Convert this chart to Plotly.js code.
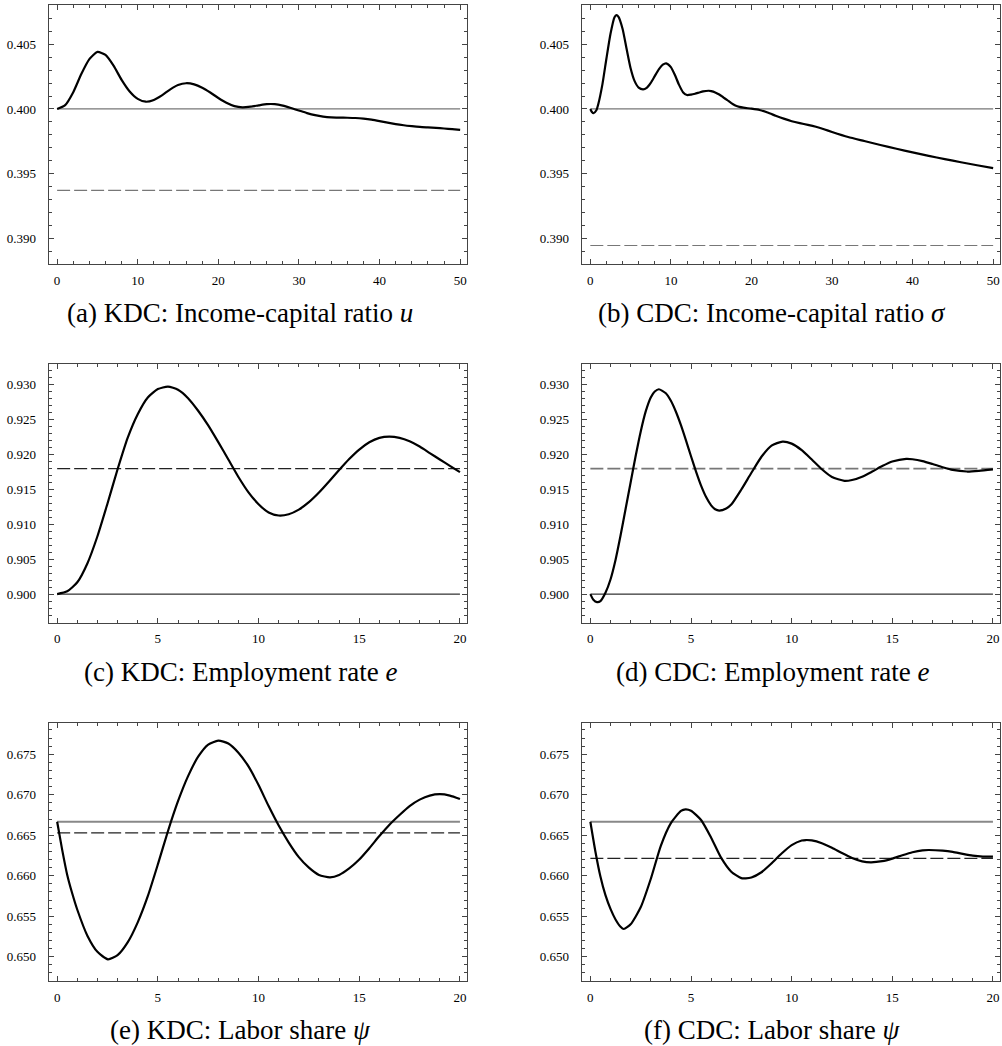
<!DOCTYPE html>
<html>
<head>
<meta charset="utf-8">
<script src="https://cdn.plot.ly/plotly-3.0.1.min.js"></script>
<style>html,body{margin:0;padding:0;background:#fff}#chart{width:1002px;height:1046px}</style>
</head>
<body>
<div id="chart"></div>
<script>
// ---------- (a) KDC: income-capital ratio u ----------
const tA = [0,1,2,3,4,5,6,7,8,9,10,11,12,13,14,15,16,17,18,19,20,21,22,23,24,25,26,27,28,29,30,31,32,33,34,35,36,37,38,39,40,41,42,43,44,45,46,47,48,49,50];
const uA = [0.40000,0.40030,0.40130,0.40270,0.40385,0.40441,0.40418,0.40335,0.40225,0.40135,0.40078,0.40056,0.40070,0.40105,0.40150,0.40185,0.40199,0.40190,0.40164,0.40127,0.40085,0.40048,0.40022,0.40013,0.40018,0.40028,0.40037,0.40037,0.40026,0.40008,0.39988,0.39968,0.39952,0.39941,0.39935,0.39933,0.39932,0.39930,0.39925,0.39917,0.39906,0.39894,0.39883,0.39874,0.39867,0.39861,0.39857,0.39853,0.39849,0.39844,0.39838];
const uStartA = 0.4000, uStarA = 0.3937;

// ---------- (b) CDC: income-capital ratio sigma ----------
const tB = [0,0.2,0.4,0.75,1,1.5,2,2.5,3,3.24,3.5,4,4.5,5,5.5,6,6.55,7,7.5,8,8.5,9,9.42,10,10.5,11,11.5,12,12.5,13,13.5,14,14.7,15,15.5,16,16.5,17,17.5,18,18.5,19,20,21,22,23,24,25,26,27,28,29,30,32,34,36,38,40,42,44,46,48,50];
const sB = [0.40000,0.39976,0.39967,0.39990,0.40040,0.40190,0.40390,0.40580,0.40710,0.40726,0.40712,0.40620,0.40465,0.40315,0.40215,0.40165,0.40152,0.40164,0.40202,0.40254,0.40306,0.40343,0.40353,0.40324,0.40262,0.40188,0.40130,0.40108,0.40111,0.40118,0.40127,0.40136,0.40141,0.40138,0.40128,0.40112,0.40090,0.40068,0.40045,0.40027,0.40016,0.40010,0.40002,0.39992,0.39972,0.39948,0.39925,0.39905,0.39890,0.39877,0.39862,0.39843,0.39822,0.39783,0.39752,0.39721,0.39692,0.39664,0.39637,0.39612,0.39588,0.39565,0.39542];
const sStartB = 0.4000, sStarB = 0.38944;

// ---------- (c) KDC: employment rate e ----------
const tC = [0,0.5,1,1.5,2,2.5,3,3.5,4,4.5,5,5.5,6,6.5,7,7.5,8,8.5,9,9.5,10,10.5,11,11.5,12,12.5,13,13.5,14,14.5,15,15.5,16,16.5,17,17.5,18,18.5,19,19.5,20];
const eC = [0.9000,0.9004,0.9017,0.9044,0.9083,0.9130,0.9179,0.9224,0.9258,0.9282,0.9294,0.92976,0.9293,0.9281,0.9263,0.9242,0.9218,0.9193,0.9168,0.9146,0.9129,0.9117,0.91127,0.91146,0.91212,0.91318,0.91456,0.91614,0.91779,0.91937,0.92073,0.92178,0.92241,0.92259,0.92240,0.92191,0.92116,0.92023,0.9193,0.9184,0.9175];
const eStartC = 0.9000, eStarC = 0.9180;

// ---------- (d) CDC: employment rate e ----------
const tD = [0,0.15,0.33,0.5,0.75,1,1.25,1.5,1.75,2,2.25,2.5,2.75,3,3.2,3.4,3.75,4,4.25,4.5,4.75,5,5.25,5.5,5.75,6,6.2,6.4,6.75,7,7.5,8,8.5,9,9.55,10,10.5,11,11.5,12,12.62,13,13.5,14,14.5,15,15.69,16,16.5,17,17.5,18,18.7,19.3,20];
const eD = [0.9000,0.8992,0.89886,0.8990,0.9002,0.9021,0.9049,0.9084,0.9122,0.9160,0.9198,0.9233,0.9262,0.9282,0.92905,0.92938,0.92880,0.92772,0.92615,0.92422,0.92204,0.91977,0.91757,0.91556,0.91392,0.91273,0.91217,0.91198,0.91228,0.91284,0.9150,0.9174,0.9197,0.9213,0.92187,0.92158,0.92064,0.91930,0.91790,0.91679,0.91624,0.91636,0.91684,0.91757,0.91836,0.91901,0.91939,0.91934,0.91908,0.91866,0.91820,0.91781,0.91758,0.91768,0.9179];
const eStartD = 0.9000, eStarD = 0.9180;

// ---------- (e) KDC: labor share psi ----------
const tE = [0,0.25,0.5,0.75,1,1.5,2,2.52,3,3.5,4,4.5,5,5.5,6,6.5,7,7.5,8,8.5,9,9.5,10,10.5,11,11.5,12,12.5,13,13.55,14,14.5,15,15.5,16,16.5,17,17.5,18,18.5,19,19.5,20];
const pE = [0.66667,0.6632,0.6601,0.6578,0.6558,0.6526,0.6506,0.64968,0.65019,0.65176,0.65424,0.65747,0.6614,0.6655,0.6692,0.6723,0.6747,0.6762,0.67668,0.67634,0.67520,0.67350,0.6712,0.6686,0.6662,0.6641,0.6623,0.6610,0.6601,0.65981,0.6601,0.6609,0.6620,0.6634,0.6649,0.6663,0.6675,0.6686,0.6694,0.6699,0.67007,0.6699,0.66948];
const pStartE = 0.66667, pStarE = 0.6653;

// ---------- (f) CDC: labor share psi ----------
const tF = [0,0.25,0.5,0.75,1,1.25,1.5,1.66,2,2.5,3,3.5,4,4.5,4.73,5,5.5,6,6.5,7,7.5,7.72,8,8.5,9,9.5,10,10.5,10.71,11,11.5,12,12.5,13,13.5,13.94,14.5,15,15.5,16,16.5,16.8,17.5,18,18.5,19,19.5,20];
const pF = [0.66667,0.6630,0.6599,0.6576,0.6559,0.6546,0.6537,0.65342,0.6540,0.6561,0.6596,0.6637,0.6665,0.6680,0.6682,0.66803,0.66688,0.6647,0.6622,0.6605,0.6597,0.65968,0.65978,0.66043,0.66152,0.66274,0.66378,0.66435,0.66441,0.66436,0.66402,0.66346,0.66280,0.66220,0.66178,0.66166,0.66180,0.66212,0.66253,0.66290,0.66314,0.66318,0.66310,0.66295,0.66270,0.66248,0.66237,0.66235];
const pStartF = 0.66667, pStarF = 0.66215;

const captions = [
  "(a) KDC: Income-capital ratio <i>u</i>",
  "(b) CDC: Income-capital ratio <i>σ</i>",
  "(c) KDC: Employment rate <i>e</i>",
  "(d) CDC: Employment rate <i>e</i>",
  "(e) KDC: Labor share <i>ψ</i>",
  "(f) CDC: Labor share <i>ψ</i>"
];

const panels = [
  {t:tA, y:uA, start:uStartA, star:uStarA, xmax:50, xr:[-1.07,50.85], yr:[0.38801,0.40804], ytv:[0.390,0.395,0.400,0.405], xd:10, xmin:2, ymin:0.001, solidC:'#777', solidW:1.2, dashC:'#777', dashW:1.2},
  {t:tB, y:sB, start:sStartB, star:sStarB, xmax:50, xr:[-1.07,50.85], yr:[0.38801,0.40804], ytv:[0.390,0.395,0.400,0.405], xd:10, xmin:2, ymin:0.001, solidC:'#777', solidW:1.2, dashC:'#777', dashW:1.2},
  {t:tC, y:eC, start:eStartC, star:eStarC, xmax:20, xr:[-0.43,20.35], yr:[0.8959,0.9330], ytv:[0.900,0.905,0.910,0.915,0.920,0.925,0.930], xd:5, xmin:1, ymin:0.001, solidC:'#000', solidW:1, dashC:'#222', dashW:1.2},
  {t:tD, y:eD, start:eStartD, star:eStarD, xmax:20, xr:[-0.43,20.35], yr:[0.8959,0.9330], ytv:[0.900,0.905,0.910,0.915,0.920,0.925,0.930], xd:5, xmin:1, ymin:0.001, solidC:'#000', solidW:1, dashC:'#777', dashW:1.8},
  {t:tE, y:pE, start:pStartE, star:pStarE, xmax:20, xr:[-0.43,20.35], yr:[0.6470,0.6789], ytv:[0.650,0.655,0.660,0.665,0.670,0.675], xd:5, xmin:1, ymin:0.001, solidC:'#888', solidW:1.8, dashC:'#222', dashW:1.2},
  {t:tF, y:pF, start:pStartF, star:pStarF, xmax:20, xr:[-0.43,20.35], yr:[0.6470,0.6789], ytv:[0.650,0.655,0.660,0.665,0.670,0.675], xd:5, xmin:1, ymin:0.001, solidC:'#888', solidW:1.8, dashC:'#222', dashW:1.2}
];

const W = 1002, H = 1046;
const colPx = [[48.5,467],[581.7,1000]];
const rowPx = [[5,264],[364,622.7],[722.7,981]];
const capCenterPx = [240, 772];
const SERIF = 'Liberation Serif, serif';

const traces = [];
const layout = {
  width: W, height: H,
  margin: {l:0, r:0, t:0, b:0},
  paper_bgcolor: '#fff', plot_bgcolor: '#fff',
  showlegend: false,
  font: {family: SERIF, size: 13, color: '#000'},
  annotations: []
};

panels.forEach((p, i) => {
  const r = Math.floor(i/2), c = i%2;
  const n = i+1;
  const xa = 'x' + (n===1?'':n), ya = 'y' + (n===1?'':n);
  const xk = 'xaxis' + (n===1?'':n), yk = 'yaxis' + (n===1?'':n);
  traces.push({x:[0,p.xmax], y:[p.start,p.start], xaxis:xa, yaxis:ya, mode:'lines',
    line:{color:p.solidC, width:p.solidW}, hoverinfo:'skip'});
  traces.push({x:[0,p.xmax], y:[p.star,p.star], xaxis:xa, yaxis:ya, mode:'lines',
    line:{color:p.dashC, width:p.dashW, dash:'13px,4px'}, hoverinfo:'skip'});
  traces.push({x:p.t, y:p.y, xaxis:xa, yaxis:ya, mode:'lines',
    line:{color:'#000', width:2.2, shape:'spline', smoothing:0.6}});

  layout[xk] = {
    domain:[colPx[c][0]/W, colPx[c][1]/W], anchor: ya, range:p.xr,
    showgrid:false, zeroline:false, showline:true, linecolor:'#444', linewidth:1, mirror:'ticks',
    ticks:'inside', ticklen:5, tickwidth:1, tickcolor:'#444', dtick:p.xd, tick0:0,
    minor:{ticks:'inside', ticklen:3, tickwidth:1, tickcolor:'#444', dtick:p.xmin, tick0:0, showgrid:false},
    tickfont:{size:13, color:'#000', family:SERIF}, ticklabelstandoff:4
  };
  layout[yk] = {
    domain:[1-rowPx[r][1]/H, 1-rowPx[r][0]/H], anchor: xa, range:p.yr,
    showgrid:false, zeroline:false, showline:true, linecolor:'#444', linewidth:1, mirror:'ticks',
    ticks:'inside', ticklen:5, tickwidth:1, tickcolor:'#444',
    tickmode:'array', tickvals:p.ytv, ticktext:p.ytv.map(v=>v.toFixed(3)),
    minor:{ticks:'inside', ticklen:3, tickwidth:1, tickcolor:'#444', dtick:p.ymin, tick0:0, showgrid:false},
    tickfont:{size:13, color:'#000', family:SERIF}, ticklabelstandoff:9
  };
  layout.annotations.push({
    text: captions[i], xref:'paper', yref:'paper',
    x: capCenterPx[c]/W, y: 1-(rowPx[r][1]+49)/H, xanchor:'center', yanchor:'middle',
    showarrow:false, font:{size:27, color:'#000', family:SERIF}
  });
});

Plotly.newPlot('chart', traces, layout, {staticPlot:true, displayModeBar:false});
</script>
</body>
</html>
